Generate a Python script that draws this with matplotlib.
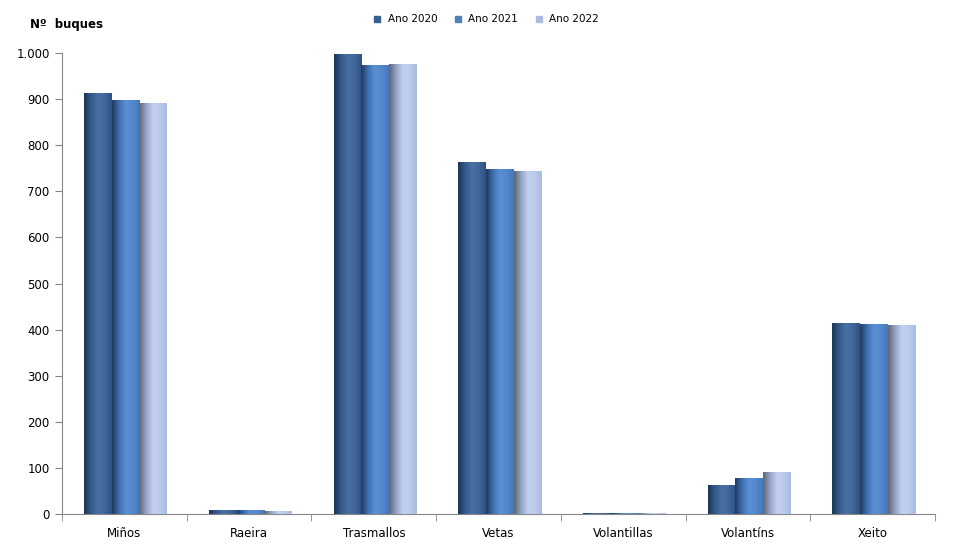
import numpy as np
import matplotlib
matplotlib.use("Agg")
import matplotlib.pyplot as plt
from matplotlib.colors import LinearSegmentedColormap
from matplotlib.ticker import FuncFormatter, FixedLocator

# datos
categorias = ["Miños", "Raeira", "Trasmallos", "Vetas", "Volantillas", "Volantíns", "Xeito"]
anos = ["Ano 2020", "Ano 2021", "Ano 2022"]
v2020 = [913, 7, 996, 763, 2, 61, 413]
v2021 = [898, 7, 974, 748, 1, 78, 411]
v2022 = [891, 6, 975, 742, 1, 91, 410]
series = [v2020, v2021, v2022]

# colores (degradado tipo cilindro)
cor_legenda = ["#3a5f8f", "#4f81bd", "#a9bcdf"]
stops = [
    ["#1c3558", "#345a8a", "#4a70a4", "#42679a", "#2f5282"],
    ["#1e3a62", "#3f6faf", "#5b8fd6", "#5488cc", "#4678bb"],
    ["#5f6678", "#95a3c4", "#c2d1f0", "#bccbec", "#a9bbe0"],
]
cmaps = [LinearSegmentedColormap.from_list("c%d" % i, s) for i, s in enumerate(stops)]

plt.rcParams['font.family'] = ['DejaVu Sans']
fig = plt.figure(figsize=(9.62, 5.54), dpi=100)
ax = fig.add_axes([0.0645, 0.0722, 0.9075, 0.832])

x = np.arange(len(categorias))
w = 0.222
grad = np.linspace(0, 1, 64).reshape(1, -1)
for i, vals in enumerate(series):
    bars = ax.bar(x + (i - 1) * w + 0.01, vals, width=w, color=cor_legenda[i], label=anos[i], zorder=2)
    for b in bars:
        x0 = b.get_x()
        ax.imshow(grad, extent=[x0, x0 + b.get_width(), 0, b.get_height()],
                  aspect='auto', cmap=cmaps[i], zorder=3, interpolation='bicubic')

ax.set_xlim(-0.5, len(categorias) - 0.5)
ax.set_ylim(0, 1000)
ax.set_yticks(np.arange(0, 1001, 100))
ax.yaxis.set_major_formatter(FuncFormatter(lambda v, p: "{:,}".format(int(v)).replace(",", ".")))
ax.set_xticks(x)
ax.set_xticklabels(categorias)
ax.xaxis.set_minor_locator(FixedLocator(np.arange(-0.5, len(categorias), 1)))
ax.tick_params(axis='x', which='major', length=0, pad=9, labelsize=8.5)
ax.tick_params(axis='x', which='minor', length=5, color="#868686")
ax.tick_params(axis='y', length=5, color="#868686", labelsize=8.5, pad=4)

for s in ["top", "right"]:
    ax.spines[s].set_visible(False)
for s in ["left", "bottom"]:
    ax.spines[s].set_color("#868686")

fig.text(0.031, 0.955, "Nº  buques", fontsize=8.5, fontweight="bold", va="center")

handles = [plt.Line2D([], [], marker='s', ls='', color=c, markersize=5) for c in cor_legenda]
fig.legend(handles, anos, loc="center", bbox_to_anchor=(0.502, 0.965), ncol=3, frameon=False,
           fontsize=7.5, handletextpad=0.0, columnspacing=1.0)

fig.savefig("out.png", dpi=100)
